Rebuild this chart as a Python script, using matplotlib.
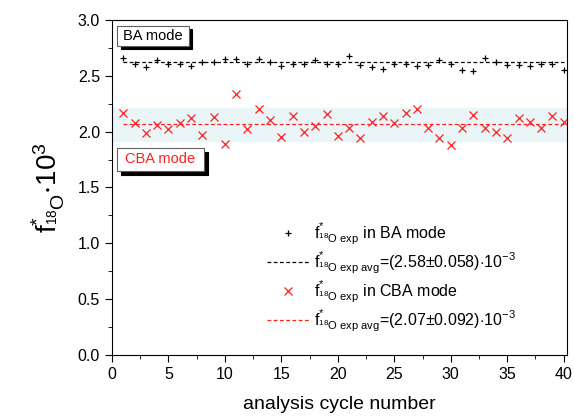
import numpy as np
import matplotlib.pyplot as plt
from matplotlib.patches import Rectangle

plt.rcParams['font.family'] = ['Liberation Sans', 'DejaVu Sans']
plt.rcParams['mathtext.fontset'] = 'custom'
plt.rcParams['mathtext.rm'] = 'Liberation Sans'
plt.rcParams['mathtext.it'] = 'Liberation Sans'
plt.rcParams['mathtext.bf'] = 'Liberation Sans:bold'

# data
cycles = np.arange(1, 41)
ba_vals = [2.66, 2.61, 2.58, 2.64, 2.61, 2.61, 2.59, 2.62, 2.62, 2.65,
           2.65, 2.61, 2.65, 2.62, 2.59, 2.61, 2.61, 2.64, 2.61, 2.61,
           2.68, 2.60, 2.58, 2.56, 2.61, 2.61, 2.59, 2.60, 2.64, 2.61,
           2.55, 2.54, 2.66, 2.62, 2.60, 2.60, 2.59, 2.61, 2.61, 2.55]
cba_vals = [2.17, 2.08, 1.99, 2.06, 2.02, 2.08, 2.12, 1.97, 2.13, 1.89,
            2.34, 2.02, 2.20, 2.10, 1.95, 2.14, 2.00, 2.05, 2.16, 1.96,
            2.03, 1.94, 2.09, 2.14, 2.08, 2.17, 2.20, 2.03, 1.94, 1.88,
            2.03, 2.15, 2.03, 2.00, 1.94, 2.12, 2.09, 2.03, 2.14, 2.09]
ba_avg = 2.62
cba_avg = 2.07
cba_band = (1.92, 2.21)

lab_ba = r'$\mathregular{f^{*}_{^{18}O\ exp}}$ in BA mode'
lab_ba_avg = r'$\mathregular{f^{*}_{^{18}O\ exp\ avg}}$=(2.58$\pm$0.058)$\cdot$10$^{-3}$'
lab_cba = r'$\mathregular{f^{*}_{^{18}O\ exp}}$ in CBA mode'
lab_cba_avg = r'$\mathregular{f^{*}_{^{18}O\ exp\ avg}}$=(2.07$\pm$0.092)$\cdot$10$^{-3}$'

fig = plt.figure(figsize=(5.74, 4.17), dpi=100)
ax = fig.add_axes([0.195, 0.149, 0.793, 0.803])

ax.axhspan(cba_band[0], cba_band[1], color='#eaf5f8', zorder=0)

ax.plot(cycles, ba_vals, ls='none', marker='+', color='black', ms=5, mew=0.9, label=lab_ba)
ax.plot([cycles[0], cycles[-1]], [ba_avg, ba_avg], ls=(0, (3, 2)), color='black', lw=0.9, label=lab_ba_avg)
ax.plot(cycles, cba_vals, ls='none', marker='x', color='#ff2020', ms=5.5, mew=0.9, label=lab_cba)
ax.plot([cycles[0], cycles[-1]], [cba_avg, cba_avg], ls=(0, (3, 2)), color='#ff2020', lw=0.9, label=lab_cba_avg)

ax.set_xlim(0, 40.3)
ax.set_ylim(0, 3.0)
ax.set_xticks(np.arange(0, 41, 5))
ax.set_xticks(np.arange(0, 41, 2.5), minor=True)
ax.set_yticks(np.arange(0, 3.01, 0.5))
ax.set_yticks(np.arange(0, 3.01, 0.25), minor=True)
ax.yaxis.set_major_formatter(plt.FormatStrFormatter('%.1f'))
ax.tick_params(which='both', direction='out', top=False, right=False, labelsize=11.5)
ax.tick_params(which='major', length=5)
ax.tick_params(which='minor', length=3)

ax.set_xlabel('analysis cycle number', fontsize=14, labelpad=10)
ax.set_ylabel(r'$\mathregular{f^{*}_{^{18}O}{\cdot}10^{3}}$', fontsize=20, labelpad=8)


def mode_box(x0, y0, w, h, text, color):
    # black drop shadow, then white box with the label
    dx, dy = 0.008, -0.011
    ax.add_patch(Rectangle((x0 + dx, y0 + dy), w, h, transform=ax.transAxes,
                           fc='black', ec='black', lw=0.8, zorder=3))
    ax.add_patch(Rectangle((x0, y0), w, h, transform=ax.transAxes,
                           fc='white', ec='#606060', lw=0.8, zorder=4))
    ax.text(x0 + w / 2, y0 + h / 2, text, fontsize=10.5, color=color, ha='center', va='center',
            transform=ax.transAxes, zorder=5)


mode_box(0.011, 0.923, 0.158, 0.060, 'BA mode', 'black')
mode_box(0.011, 0.549, 0.191, 0.069, 'CBA mode', '#ff2020')

ax.legend(loc='lower left', bbox_to_anchor=(0.31, 0.02), frameon=False, fontsize=11.5,
          labelspacing=0.15, handlelength=2.6, handletextpad=0.3)

fig.savefig('out.png', dpi=100)
